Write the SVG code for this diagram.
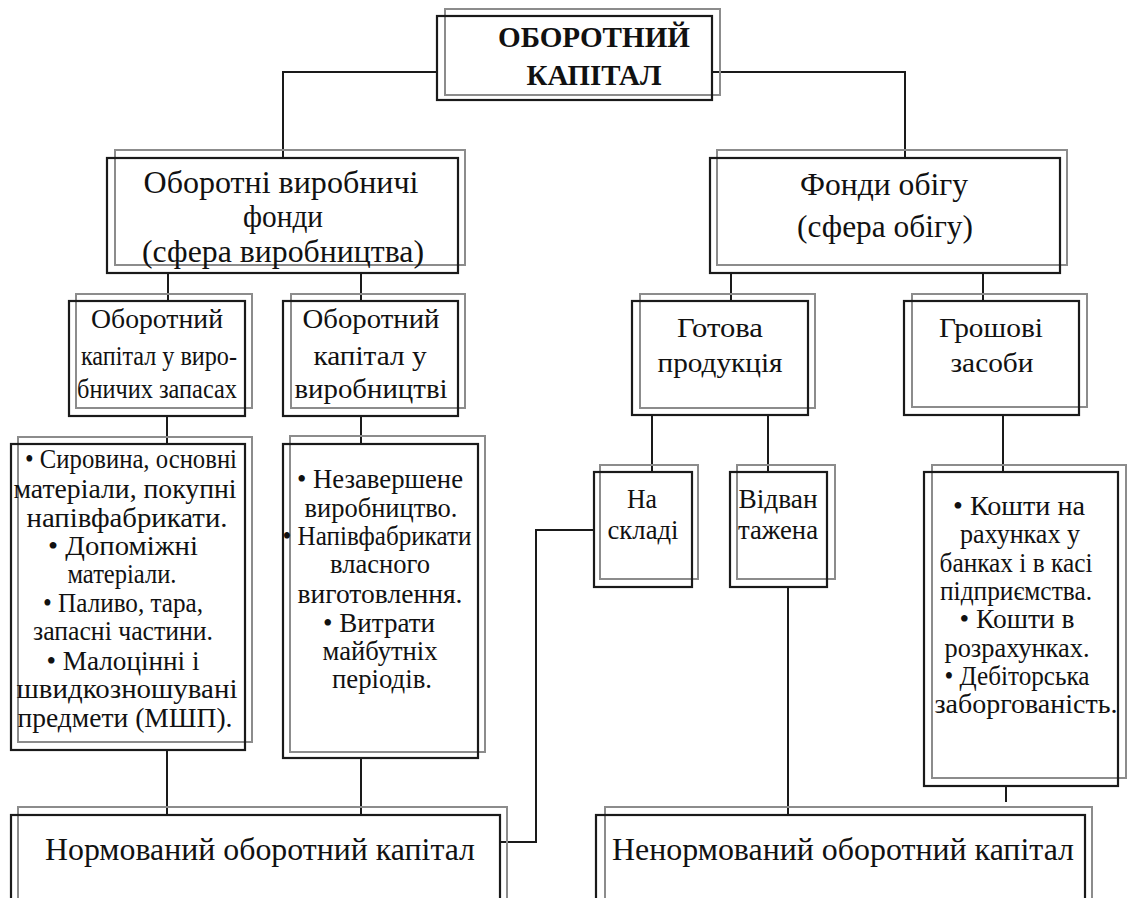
<svg xmlns="http://www.w3.org/2000/svg" width="1131" height="898" viewBox="0 0 1131 898">
<style>
.g{fill:none;stroke:#8c8c8c;stroke-width:2}
.b{fill:none;stroke:#1a1a1a;stroke-width:2.2}
.c{fill:none;stroke:#1a1a1a;stroke-width:2}
.tx text{fill:#111;text-anchor:middle}
.h{font-size:30px;font-weight:bold}
.l2{font-size:32px}
.l3{font-size:28px}
.l4{font-size:27px}
.bt{font-size:32px}
</style>
<rect width="1131" height="898" fill="#fff"/>
<g id="connectors">
<polyline class="c" points="437,72 283,72 283,158"/>
<polyline class="c" points="712,72 905,72 905,158"/>
<line class="c" x1="168" y1="273" x2="168" y2="301"/>
<line class="c" x1="361" y1="273" x2="361" y2="301"/>
<line class="c" x1="731" y1="273" x2="731" y2="301"/>
<line class="c" x1="983" y1="273" x2="983" y2="301"/>
<line class="c" x1="167" y1="416" x2="167" y2="444"/>
<line class="c" x1="361" y1="416" x2="361" y2="444"/>
<line class="c" x1="652" y1="415" x2="652" y2="472"/>
<line class="c" x1="768" y1="415" x2="768" y2="472"/>
<line class="c" x1="1003" y1="415" x2="1003" y2="472"/>
<line class="c" x1="167" y1="750" x2="167" y2="815"/>
<line class="c" x1="361" y1="758" x2="361" y2="815"/>
<polyline class="c" points="594,530 536,530 536,842 500,842"/>
<line class="c" x1="788" y1="587" x2="788" y2="815"/>
<line class="c" x1="1006" y1="786" x2="1006" y2="802"/>
</g>
<g class="tx" font-family="'Liberation Serif', 'DejaVu Serif', 'Times New Roman', serif">
<g id="n-top">
<rect class="g" x="445" y="9" width="275" height="86"/>
<rect class="b" x="437" y="16" width="275" height="84"/>
<text class="h" x="594" y="47" textLength="192" lengthAdjust="spacingAndGlyphs">ОБОРОТНИЙ</text>
<text class="h" x="594" y="85" textLength="135" lengthAdjust="spacingAndGlyphs">КАПІТАЛ</text>
</g>
<g id="n-prod-funds">
<rect class="g" x="115" y="150" width="350" height="115"/>
<rect class="b" x="107" y="158" width="351" height="115"/>
<text class="l2" x="281" y="193" textLength="275" lengthAdjust="spacingAndGlyphs">Оборотні виробничі</text>
<text class="l2" x="283" y="227" textLength="80" lengthAdjust="spacingAndGlyphs">фонди</text>
<text class="l2" x="283" y="262" textLength="282" lengthAdjust="spacingAndGlyphs">(сфера виробництва)</text>
</g>
<g id="n-circ-funds">
<rect class="g" x="717" y="150" width="350" height="115"/>
<rect class="b" x="710" y="158" width="350" height="115"/>
<text class="l2" x="884" y="195" textLength="168" lengthAdjust="spacingAndGlyphs">Фонди обігу</text>
<text class="l2" x="885" y="237" textLength="176" lengthAdjust="spacingAndGlyphs">(сфера обігу)</text>
</g>
<g id="n-stock">
<rect class="g" x="76" y="294" width="176" height="114"/>
<rect class="b" x="69" y="301" width="176" height="115"/>
<text class="l3" x="157" y="328" textLength="132" lengthAdjust="spacingAndGlyphs">Оборотний</text>
<text class="l3" x="159" y="365" textLength="156" lengthAdjust="spacingAndGlyphs">капітал у виро-</text>
<text class="l3" x="157" y="398" textLength="160" lengthAdjust="spacingAndGlyphs">бничих запасах</text>
</g>
<g id="n-inprod">
<rect class="g" x="291" y="294" width="174" height="114"/>
<rect class="b" x="283" y="301" width="175" height="115"/>
<text class="l3" x="371" y="328" textLength="137" lengthAdjust="spacingAndGlyphs">Оборотний</text>
<text class="l3" x="370" y="365" textLength="113" lengthAdjust="spacingAndGlyphs">капітал у</text>
<text class="l3" x="371" y="398" textLength="153" lengthAdjust="spacingAndGlyphs">виробництві</text>
</g>
<g id="n-finished">
<rect class="g" x="640" y="294" width="175" height="114"/>
<rect class="b" x="632" y="301" width="176" height="114"/>
<text class="l3" x="720" y="337" textLength="86" lengthAdjust="spacingAndGlyphs">Готова</text>
<text class="l3" x="720" y="372" textLength="125" lengthAdjust="spacingAndGlyphs">продукція</text>
</g>
<g id="n-cash">
<rect class="g" x="912" y="294" width="175" height="113"/>
<rect class="b" x="904" y="301" width="175" height="114"/>
<text class="l3" x="991" y="337" textLength="104" lengthAdjust="spacingAndGlyphs">Грошові</text>
<text class="l3" x="992" y="372" textLength="83" lengthAdjust="spacingAndGlyphs">засоби</text>
</g>
<g id="n-stock-list">
<rect class="g" x="18" y="437" width="234" height="305"/>
<rect class="b" x="11" y="444" width="234" height="306"/>
<text class="l4" x="131" y="468" textLength="212" lengthAdjust="spacingAndGlyphs">• Сировина, основні</text>
<text class="l4" x="125" y="498" textLength="223" lengthAdjust="spacingAndGlyphs">матеріали, покупні</text>
<text class="l4" x="127" y="527" textLength="201" lengthAdjust="spacingAndGlyphs">напівфабрикати.</text>
<text class="l4" x="123" y="555" textLength="150" lengthAdjust="spacingAndGlyphs">• Допоміжні</text>
<text class="l4" x="122" y="583" textLength="109" lengthAdjust="spacingAndGlyphs">матеріали.</text>
<text class="l4" x="123" y="612" textLength="160" lengthAdjust="spacingAndGlyphs">• Паливо, тара,</text>
<text class="l4" x="123" y="640" textLength="180" lengthAdjust="spacingAndGlyphs">запасні частини.</text>
<text class="l4" x="123" y="670" textLength="153" lengthAdjust="spacingAndGlyphs">• Малоцінні і</text>
<text class="l4" x="127" y="698" textLength="221" lengthAdjust="spacingAndGlyphs">швидкозношувані</text>
<text class="l4" x="125" y="727" textLength="215" lengthAdjust="spacingAndGlyphs">предмети (МШП).</text>
</g>
<g id="n-inprod-list">
<rect class="g" x="290" y="436" width="195" height="316"/>
<rect class="b" x="283" y="444" width="195" height="314"/>
<text class="l4" x="380" y="488" textLength="166" lengthAdjust="spacingAndGlyphs">• Незавершене</text>
<text class="l4" x="381" y="517" textLength="153" lengthAdjust="spacingAndGlyphs">виробництво.</text>
<text class="l4" x="377" y="545" textLength="189" lengthAdjust="spacingAndGlyphs">• Напівфабрикати</text>
<text class="l4" x="380" y="573" textLength="100" lengthAdjust="spacingAndGlyphs">власного</text>
<text class="l4" x="380" y="603" textLength="165" lengthAdjust="spacingAndGlyphs">виготовлення.</text>
<text class="l4" x="379" y="632" textLength="112" lengthAdjust="spacingAndGlyphs">• Витрати</text>
<text class="l4" x="380" y="660" textLength="115" lengthAdjust="spacingAndGlyphs">майбутніх</text>
<text class="l4" x="382" y="688" textLength="100" lengthAdjust="spacingAndGlyphs">періодів.</text>
</g>
<g id="n-warehouse">
<rect class="g" x="600" y="465" width="98" height="114"/>
<rect class="b" x="594" y="472" width="98" height="115"/>
<text class="l3" x="642" y="508" textLength="30" lengthAdjust="spacingAndGlyphs">На</text>
<text class="l3" x="643" y="539" textLength="71" lengthAdjust="spacingAndGlyphs">складі</text>
</g>
<g id="n-shipped">
<rect class="g" x="737" y="465" width="98" height="114"/>
<rect class="b" x="730" y="472" width="97" height="115"/>
<text class="l3" x="778" y="508" textLength="79" lengthAdjust="spacingAndGlyphs">Відван</text>
<text class="l3" x="778" y="539" textLength="80" lengthAdjust="spacingAndGlyphs">тажена</text>
</g>
<g id="n-cash-list">
<rect class="g" x="932" y="465" width="194" height="313"/>
<rect class="b" x="924" y="472" width="194" height="314"/>
<text class="l4" x="1019" y="515" textLength="132" lengthAdjust="spacingAndGlyphs">• Кошти на</text>
<text class="l4" x="1020" y="543" textLength="120" lengthAdjust="spacingAndGlyphs">рахунках у</text>
<text class="l4" x="1016" y="572" textLength="153" lengthAdjust="spacingAndGlyphs">банках і в касі</text>
<text class="l4" x="1016" y="600" textLength="152" lengthAdjust="spacingAndGlyphs">підприємства.</text>
<text class="l4" x="1017" y="628" textLength="115" lengthAdjust="spacingAndGlyphs">• Кошти в</text>
<text class="l4" x="1017" y="657" textLength="145" lengthAdjust="spacingAndGlyphs">розрахунках.</text>
<text class="l4" x="1017" y="685" textLength="145" lengthAdjust="spacingAndGlyphs">• Дебіторська</text>
<text class="l4" x="1026" y="713" textLength="183" lengthAdjust="spacingAndGlyphs">заборгованість.</text>
</g>
<g id="n-normed">
<rect class="g" x="18" y="807" width="489" height="100"/>
<rect class="b" x="11" y="815" width="489" height="100"/>
<text class="bt" x="260" y="860" textLength="430" lengthAdjust="spacingAndGlyphs">Нормований оборотний капітал</text>
</g>
<g id="n-unnormed">
<rect class="g" x="605" y="807" width="487" height="100"/>
<rect class="b" x="596" y="815" width="489" height="100"/>
<text class="bt" x="843" y="860" textLength="462" lengthAdjust="spacingAndGlyphs">Ненормований оборотний капітал</text>
</g>
</g>
</svg>
